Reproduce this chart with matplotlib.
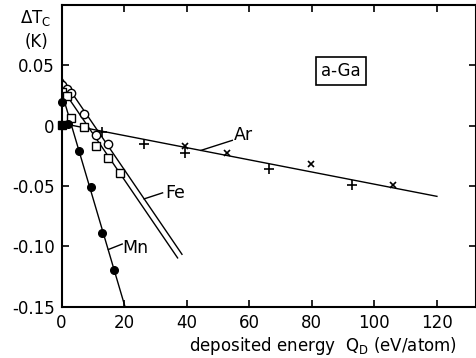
import matplotlib
matplotlib.use("Agg")
import matplotlib.pyplot as plt
import numpy as np

plt.rcParams['font.family'] = 'DejaVu Sans'
plt.rcParams['mathtext.fontset'] = 'dejavusans'

# Ar data (two marker types) and fitted line
ar_plus_x = [13.0, 26.4, 39.5, 66.4, 92.8]
ar_plus_y = [-0.0050, -0.0150, -0.0230, -0.0355, -0.0495]
ar_cross_x = [39.5, 53.0, 79.7, 106.1]
ar_cross_y = [-0.0170, -0.0225, -0.0317, -0.0488]
ar_line_x = [0, 120]
ar_line_y = [0.002, -0.0585]

# Fe data: open circles and open squares, two parallel lines
fe_circ_x = [0.3, 1.7, 3.1, 7.2, 11.1, 15.0]
fe_circ_y = [0.0340, 0.0306, 0.0270, 0.0100, -0.0074, -0.0149]
fe_sq_x = [0.3, 1.9, 3.1, 7.2, 11.1, 14.9, 18.6]
fe_sq_y = [0.0280, 0.0250, 0.0064, -0.0010, -0.0165, -0.0270, -0.0390]
fe_line1_x = [0, 38.5]
fe_line1_y = [0.0398, -0.1065]
fe_line2_x = [0, 37.1]
fe_line2_y = [0.0315, -0.1095]

# Mn data: filled circles
mn_x = [0.2, 2.1, 5.6, 9.3, 12.9, 16.8]
mn_y = [0.0200, 0.0014, -0.0211, -0.0506, -0.0887, -0.1197]
mn_line_x = [0, 20.3]
mn_line_y = [0.0282, -0.1500]

ref_x = [0.0]
ref_y = [0.0005]

xticks = [0, 20, 40, 60, 80, 100, 120]
yticks = [-0.15, -0.10, -0.05, 0, 0.05]
ytick_labels = ['-0.15', '-0.10', '-0.05', '0', '0.05']

fig = plt.figure(figsize=(4.77, 3.58), dpi=100)
ax = fig.add_axes([0.129, 0.143, 0.869, 0.843])

lw = 1.0
ax.plot(ar_line_x, ar_line_y, color='black', lw=lw)
ax.plot(fe_line1_x, fe_line1_y, color='black', lw=lw)
ax.plot(fe_line2_x, fe_line2_y, color='black', lw=lw)
ax.plot(mn_line_x, mn_line_y, color='black', lw=lw)

ax.plot(ar_plus_x, ar_plus_y, '+', color='black', ms=6.5, mew=1.2)
ax.plot(ar_cross_x, ar_cross_y, 'x', color='black', ms=4.5, mew=1.2)
ax.plot(fe_circ_x, fe_circ_y, 'o', mfc='white', mec='black', ms=6, mew=1.0)
ax.plot(fe_sq_x, fe_sq_y, 's', mfc='white', mec='black', ms=5.5, mew=1.0)
ax.plot(mn_x, mn_y, 'o', color='black', ms=5.5, clip_on=False)
ax.plot(ref_x, ref_y, 's', color='black', ms=6, clip_on=False)

# labels with leader lines
ax.plot([44.6, 54.6], [-0.0204, -0.0121], color='black', lw=1.0)
ax.text(55.2, -0.0075, 'Ar', fontsize=12.5, va='center', ha='left')
ax.plot([26.4, 32.3], [-0.0606, -0.0556], color='black', lw=1.0)
ax.text(33.1, -0.0554, 'Fe', fontsize=12.5, va='center', ha='left')
ax.plot([15.0, 19.4], [-0.1025, -0.0980], color='black', lw=1.0)
ax.text(19.5, -0.1017, 'Mn', fontsize=12.5, va='center', ha='left')

ax.text(89.4, 0.0452, 'a-Ga', fontsize=12, ha='center', va='center',
        bbox=dict(boxstyle='square,pad=0.3', fc='white', ec='black', lw=1.2))

ax.set_xlim(0, 132.5)
ax.set_ylim(-0.15, 0.10)
ax.set_xticks(xticks)
ax.set_yticks(yticks)
ax.set_yticklabels(ytick_labels)
ax.tick_params(direction='in', length=5, width=1.2, labelsize=12,
               top=True, right=True, pad=5)
for s in ax.spines.values():
    s.set_linewidth(1.5)

ax.set_xlabel('deposited energy  Q$_\\mathrm{D}$ (eV/atom)', fontsize=12)
ax.xaxis.set_label_coords(0.631, -0.095)

fig.text(0.0755, 0.937, '$\\Delta$T$_\\mathrm{C}$', fontsize=12, ha='center', va='baseline')
fig.text(0.0755, 0.883, '(K)', fontsize=12, ha='center', va='center')

fig.savefig('out.png', dpi=100)
